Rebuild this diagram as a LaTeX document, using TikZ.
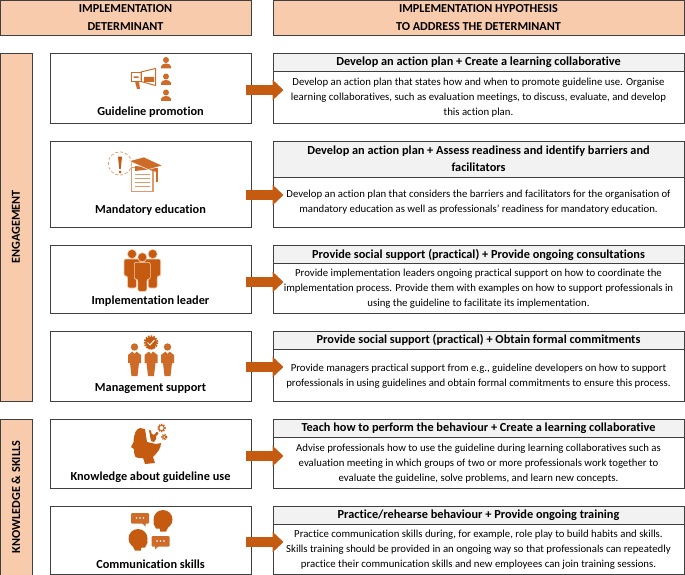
\documentclass[tikz,border=0pt]{standalone}
\usepackage{fontspec}
\setmainfont{Carlito}[Ligatures=CommonOff]
\usetikzlibrary{arrows.meta}
\definecolor{headfill}{HTML}{F8CBAD}
\definecolor{titlefill}{HTML}{F2F2F2}
\definecolor{boxline}{HTML}{3F3F3F}
\definecolor{icondark}{HTML}{C55A11}
\definecolor{iconmid}{HTML}{CE6B29}
\definecolor{iconlight}{HTML}{E09A6C}
\tikzset{
  headbox/.style={draw=boxline,fill=headfill,line width=0.9pt,inner sep=0pt,font=\fontsize{12.2}{17.5}\selectfont\bfseries,align=center},
  sidebox/.style={headbox,rotate=90,minimum height=32pt},
  detbox/.style={draw=boxline,line width=0.8pt,minimum width=201pt,inner sep=0pt},
  titlebox/.style={draw=boxline,fill=titlefill,line width=0.8pt,minimum width=411pt,inner sep=0pt},
  titletext/.style={inner sep=0pt,font=\fontsize{12.3}{17}\selectfont\bfseries,align=center},
  hypobox/.style={draw=boxline,line width=0.8pt,minimum width=411pt,inner sep=0pt},
  hypotext/.style={inner sep=0pt,font=\fontsize{10.76}{15}\selectfont,align=center},
  detlabel/.style={font=\fontsize{12.3}{14}\selectfont\bfseries,inner sep=0pt},
  flowarrow/.style={draw=icondark,line width=10pt,-{Triangle[width=20pt,length=11pt,fill=icondark]}},
  bust/.pic={
    \fill[iconmid] (0,0) circle (3);
    \fill[iconmid] (-5,8.5) -- (-5,6.5) .. controls (-5,4.5) and (-2,3.5) .. (0,3.5) .. controls (2,3.5) and (5,4.5) .. (5,6.5) -- (5,8.5) -- cycle;
  },
  staffer/.pic={
    \fill[icondark,draw=headfill,line width=0.6pt,rounded corners=2pt] (-8,5) -- (8,5) -- (8,22) -- (4.5,22) -- (4.5,34) -- (-4.5,34) -- (-4.5,22) -- (-8,22) -- cycle;
    \fill[icondark,draw=headfill,line width=0.6pt] (0,0) circle (4.6);
  },
  manager/.pic={
    \fill[iconmid] (0,0) circle (3.7);
    \fill[iconmid] (-6.5,8) -- (-2,4.5) -- (0,7) -- (2,4.5) -- (6.5,8) -- (6.5,16) -- (4.5,16) -- (3,29) -- (-3,29) -- (-4.5,16) -- (-6.5,16) -- cycle;
  },
  cog/.pic={
    \draw[icondark,line width=1.1pt,dash pattern=on 1.3pt off 1.1pt] (0,0) circle (3.4*#1);
    \draw[icondark,line width=0.9pt] (0,0) circle (2.4*#1);
  },
  talker/.pic={
    \fill[icondark] (0,0) circle (9.5);
    \fill[icondark] (-9,1) -- (-9.5,4) -- (-7,9) -- (-3,9) -- (-3,12) -- (3,12) -- (6,6) -- cycle;
  },
  bubble/.pic={
    \fill[iconmid,rounded corners=1pt] (0,0) rectangle (18,10.5);
    \fill[iconmid] (11,10) -- (14.5,13.5) -- (14.5,10) -- cycle;
    \fill[white] (5.5,5) circle (0.8) (9,5) circle (0.8) (12.5,5) circle (0.8);
  },
}
\begin{document}
\begin{tikzpicture}[x=1pt,y=-1pt]
  \useasboundingbox (0,0) rectangle (685,575);

  % headers
  \node[headbox,minimum width=251pt,minimum height=35pt] (headdet) at (125.5,17.5) {IMPLEMENTATION\\DETERMINANT};
  \node[headbox,minimum width=411pt,minimum height=35pt] (headhyp) at (478.5,17.5) {IMPLEMENTATION HYPOTHESIS\\TO ADDRESS THE DETERMINANT};

  % domains
  \node[sidebox,minimum width=348pt] (engage) at (16,227) {ENGAGEMENT};
  \node[sidebox,minimum width=156pt] (skills) at (16,497) {KNOWLEDGE \& SKILLS};

  % determinant boxes
  \node[detbox,minimum height=70pt] (det1) at (150.5,88) {};
  \node[detbox,minimum height=86pt] (det2) at (150.5,184) {};
  \node[detbox,minimum height=68pt] (det3) at (150.5,279.3) {};
  \node[detbox,minimum height=70pt] (det4) at (150.5,366) {};
  \node[detbox,minimum height=69pt] (det5) at (150.5,453.8) {};
  \node[detbox,minimum height=68pt] (det6) at (150.5,540.5) {};

  \node[detlabel] (lab1) at (150.5,112.5) {Guideline promotion};
  \node[detlabel] (lab2) at (150.5,210.2) {Mandatory education};
  \node[detlabel] (lab3) at (150.5,301.4) {Implementation leader};
  \node[detlabel] (lab4) at (150.5,388.4) {Management support};
  \node[detlabel] (lab5) at (150.5,477.4) {Knowledge about guideline use};
  \node[detlabel] (lab6) at (150.5,564) {Communication skills};

  % hypothesis boxes
  \node[hypobox,minimum height=70pt] (hypo1) at (478.5,88) {};
  \node[titlebox,minimum height=18pt] (title1) at (478.5,62) {};
  \node[hypobox,minimum height=86pt] (hypo2) at (478.5,184) {};
  \node[titlebox,minimum height=36pt] (title2) at (478.5,159) {};
  \node[hypobox,minimum height=68pt] (hypo3) at (478.5,279.3) {};
  \node[titlebox,minimum height=18pt] (title3) at (478.5,254.5) {};
  \node[hypobox,minimum height=70pt] (hypo4) at (478.5,366) {};
  \node[titlebox,minimum height=18pt] (title4) at (478.5,340) {};
  \node[hypobox,minimum height=69pt] (hypo5) at (478.5,453.8) {};
  \node[titlebox,minimum height=18pt] (title5) at (478.5,428.2) {};
  \node[hypobox,minimum height=68pt] (hypo6) at (478.5,540.5) {};
  \node[titlebox,minimum height=18pt] (title6) at (478.5,515.8) {};

  \node[titletext] (ttext1) at (478.5,62.7) {Develop an action plan + Create a learning collaborative};
  \node[hypotext] (text1) at (478.5,97.7) {Develop an action plan that states how and when to promote guideline use. Organise\\learning collaboratives, such as evaluation meetings, to discuss, evaluate, and develop\\this action plan.};
  \node[titletext] (ttext2) at (478.5,158.9) {Develop an action plan + Assess readiness and identify barriers and\\facilitators};
  \node[hypotext] (text2) at (478.5,202.5) {Develop an action plan that considers the barriers and facilitators for the organisation of\\mandatory education as well as professionals’ readiness for mandatory education.};
  \node[titletext] (ttext3) at (478.5,254.7) {Provide social support (practical) + Provide ongoing consultations};
  \node[hypotext] (text3) at (478.5,288.5) {Provide implementation leaders ongoing practical support on how to coordinate the\\implementation process. Provide them with examples on how to support professionals in\\using the guideline to facilitate its implementation.};
  \node[titletext] (ttext4) at (478.5,340) {Provide social support (practical) + Obtain formal commitments};
  \node[hypotext] (text4) at (478.5,375.7) {Provide managers practical support from e.g., guideline developers on how to support\\professionals in using guidelines and obtain formal commitments to ensure this process.};
  \node[titletext] (ttext5) at (478.5,428) {Teach how to perform the behaviour + Create a learning collaborative};
  \node[hypotext] (text5) at (478.5,463.3) {Advise professionals how to use the guideline during learning collaboratives such as\\evaluation meeting in which groups of two or more professionals work together to\\evaluate the guideline, solve problems, and learn new concepts.};
  \node[titletext] (ttext6) at (478.5,515.4) {Practice/rehearse behaviour + Provide ongoing training};
  \node[hypotext] (text6) at (478.5,550) {Practice communication skills during, for example, role play to build habits and skills.\\Skills training should be provided in an ongoing way so that professionals can repeatedly\\practice their communication skills and new employees can join training sessions.};

  % arrows
  \coordinate (from1) at (246,90);  \coordinate (to1) at (283.5,90);
  \coordinate (from2) at (246,195); \coordinate (to2) at (283.5,195);
  \coordinate (from3) at (246,282); \coordinate (to3) at (283.5,282);
  \coordinate (from4) at (246,367); \coordinate (to4) at (283.5,367);
  \coordinate (from5) at (246,456); \coordinate (to5) at (283.5,456);
  \coordinate (from6) at (246,542); \coordinate (to6) at (283.5,542);
  \draw[flowarrow] (from1) -- (to1);
  \draw[flowarrow] (from2) -- (to2);
  \draw[flowarrow] (from3) -- (to3);
  \draw[flowarrow] (from4) -- (to4);
  \draw[flowarrow] (from5) -- (to5);
  \draw[flowarrow] (from6) -- (to6);

  % megaphone
  \pic at (166,60) {bust};
  \pic at (166,76.5) {bust};
  \pic at (166,92.5) {bust};
  \draw[iconmid,line width=1pt,line join=round] (141,72) -- (155.5,68.5) -- (155.5,85.5) -- (141,81.5) -- cycle;
  \draw[iconmid,line width=1pt] (131,72.5) rectangle (141,81.5);
  \fill[iconmid] (135,81.5) -- (139,81.5) -- (140,89) -- (137,89) -- cycle;
  \fill[iconmid] (144,77) rectangle (154,82) (133.5,76.5) rectangle (138.5,78);

  % education
  \draw[iconlight,line width=0.7pt,densely dashed] (120,163.5) circle (11.7);
  \fill[icondark] (118,156.7) -- (122,156.7) -- (120.7,169) -- (119.3,169) -- cycle;
  \fill[icondark] (120,172) circle (1.5);
  \draw[iconlight,fill=white,line width=1.3pt] (131.7,167.5) rectangle (153,191.7);
  \draw[iconlight,line width=0.8pt] (135,174.3) -- (150,174.3) (135,178.3) -- (150,178.3) (135,182.3) -- (150,182.3) (135,186.7) -- (150,186.7);
  \fill[iconmid] (135,166) -- (135,171) -- (148,169.5) -- (156.7,172) -- (156.7,168) -- cycle;
  \fill[iconmid,draw=white,line width=0.5pt] (129,161) -- (144,157) -- (162.7,165.7) -- (148.3,169.5) -- cycle;
  \fill[iconmid] (156.3,168) rectangle (158.3,181.7);

  % leaders
  \pic at (132,254) {staffer};
  \pic at (152.7,254) {staffer};
  \pic at (142.3,257.3) {staffer};

  % managers
  \pic at (134.5,347) {manager};
  \pic at (151,347) {manager};
  \pic at (167.5,347) {manager};
  \draw[white,line width=1.4pt] (151,343) circle (7.2);
  \draw[icondark,line width=1.6pt,dash pattern=on 1.6pt off 1.1pt] (151,342.5) circle (6.4);
  \fill[icondark] (151,342.5) circle (5.8);
  \draw[white,line width=1pt] (147.5,342.5) -- (150,345) -- (154.5,340);

  % head with cogs
  \fill[icondark] (140,428) .. controls (136,429) and (134,433) .. (133.5,442) -- (131,447) -- (134,449) -- (134,452) .. controls (134,455) and (135,458) .. (139,458) -- (143,458) -- (145,464) -- (155,463) -- (153,457) .. controls (158,452) and (161,448) .. (161,443) -- (156,444) -- (147,442) -- (145,429) -- cycle;
  \fill[icondark] (149,430) -- (151,430.5) -- (151.5,433.5) -- (154,435) -- (157,431.5) -- (158.5,433.5) -- (156,436) -- (156,439) -- (154,442) -- (151,441) -- (150,436) -- cycle;
  \pic at (161.5,428) {cog=1.1};
  \pic at (164.3,437) {cog=0.75};

  % talking heads
  \pic at (131,513) {bubble};
  \pic at (163,519.5) {talker};
  \pic[xscale=-1] at (169.5,536) {bubble};
  \pic[xscale=-1] at (138,538.5) {talker};
\end{tikzpicture}
\end{document}
